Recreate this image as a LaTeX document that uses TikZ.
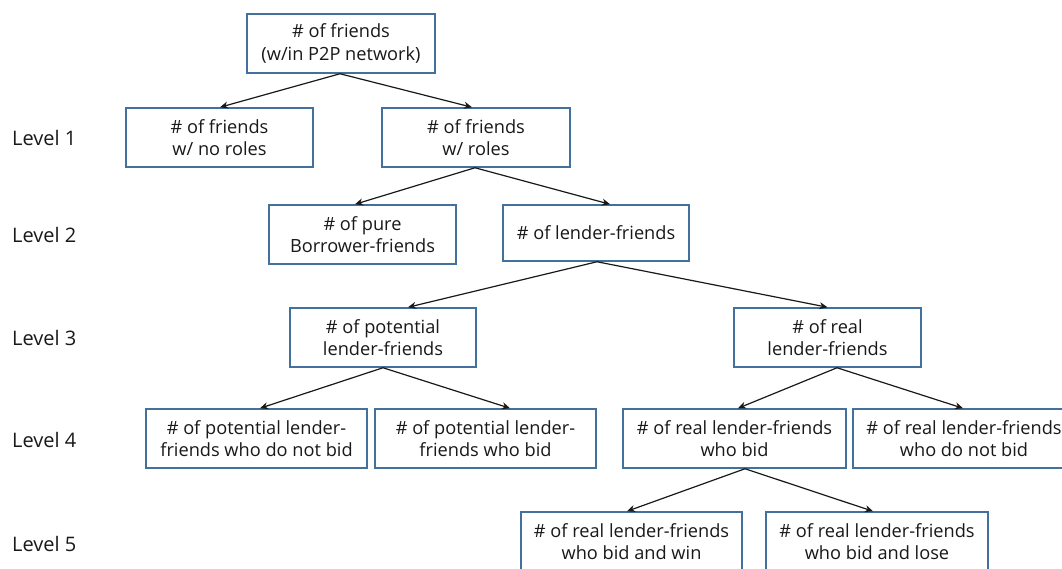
\documentclass[tikz,border=0pt]{standalone}
\usepackage{fontspec}
\setmainfont{Open Sans}
\usetikzlibrary{arrows.meta}
\definecolor{boxblue}{HTML}{41719C}
\tikzset{
  box/.style={draw=boxblue, line width=1.5pt, fill=white, inner sep=0pt,
    align=center, font=\fontsize{18.2}{22.5}\selectfont, text=black!90},
  lvl/.style={anchor=west, inner sep=0pt, font=\fontsize{20}{24}\selectfont, text=black!90},
  arr/.style={draw=black!90, line width=1.2pt, -{Stealth[length=8pt,width=7pt,inset=2.5pt]}}
}
\begin{document}
\begin{tikzpicture}[x=1pt,y=-1pt]
\clip (0,0) rectangle (1062,568);
\fill[white] (0,0) rectangle (1062,568);
% nodes
\node[box, minimum width=188pt, minimum height=59pt] (top) at (341,43.5) {\# of friends\\(w/in P2P network)};
\node[box, minimum width=187pt, minimum height=59pt] (l1a) at (219.5,137.5) {\# of friends\\w/ no roles};
\node[box, minimum width=188pt, minimum height=59pt] (l1b) at (476,137.5) {\# of friends\\w/ roles};
\node[box, minimum width=187pt, minimum height=59pt] (l2a) at (362.5,234.5) {\# of pure\\Borrower-friends};
\node[box, minimum width=186pt, minimum height=56pt] (l2b) at (596,233) {\# of lender-friends};
\node[box, minimum width=186pt, minimum height=59pt] (l3a) at (383,337.5) {\# of potential\\lender-friends};
\node[box, minimum width=187pt, minimum height=59pt] (l3b) at (827.5,337.5) {\# of real\\lender-friends};
\node[box, minimum width=221pt, minimum height=59pt] (l4a) at (256.5,438.5) {\# of potential lender-\\friends who do not bid};
\node[box, minimum width=221pt, minimum height=59pt] (l4b) at (485.5,438.5) {\# of potential lender-\\friends who bid};
\node[box, minimum width=223pt, minimum height=59pt] (l4c) at (734.5,438.5) {\# of real lender-friends\\who bid};
\node[box, minimum width=222pt, minimum height=59pt] (l4d) at (964,438.5) {\# of real lender-friends\\who do not bid};
\node[box, minimum width=221pt, minimum height=59pt] (l5a) at (631.5,541.5) {\# of real lender-friends\\who bid and win};
\node[box, minimum width=222pt, minimum height=59pt] (l5b) at (877,541.5) {\# of real lender-friends\\who bid and lose};
% level labels
\node[lvl] (lv1) at (12,138) {Level 1};
\node[lvl] (lv2) at (12,235) {Level 2};
\node[lvl] (lv3) at (12,338) {Level 3};
\node[lvl] (lv4) at (12,440) {Level 4};
\node[lvl] (lv5) at (12,544) {Level 5};
% connectors
\draw[arr] ([xshift=-1pt]top.south) -- ([xshift=0.5pt]l1a.north);
\draw[arr] ([xshift=-1pt]top.south) -- ([xshift=-4pt]l1b.north);
\draw[arr] ([xshift=-1pt]l1b.south) -- ([xshift=-7.5pt]l2a.north);
\draw[arr] ([xshift=-1pt]l1b.south) -- ([xshift=14pt]l2b.north);
\draw[arr] ([xshift=1pt]l2b.south) -- ([xshift=25pt]l3a.north);
\draw[arr] ([xshift=1pt]l2b.south) -- ([xshift=0pt]l3b.north);
\draw[arr] (l3a.south) -- ([xshift=3.5pt]l4a.north);
\draw[arr] (l3a.south) -- ([xshift=24.5pt]l4b.north);
\draw[arr] ([xshift=9.5pt]l3b.south) -- ([xshift=3.5pt]l4c.north);
\draw[arr] ([xshift=9.5pt]l3b.south) -- ([xshift=-1pt]l4d.north);
\draw[arr] ([xshift=10.5pt]l4c.south) -- ([xshift=-4.5pt]l5a.north);
\draw[arr] ([xshift=10.5pt]l4c.south) -- ([xshift=-4pt]l5b.north);
\end{tikzpicture}
\end{document}
